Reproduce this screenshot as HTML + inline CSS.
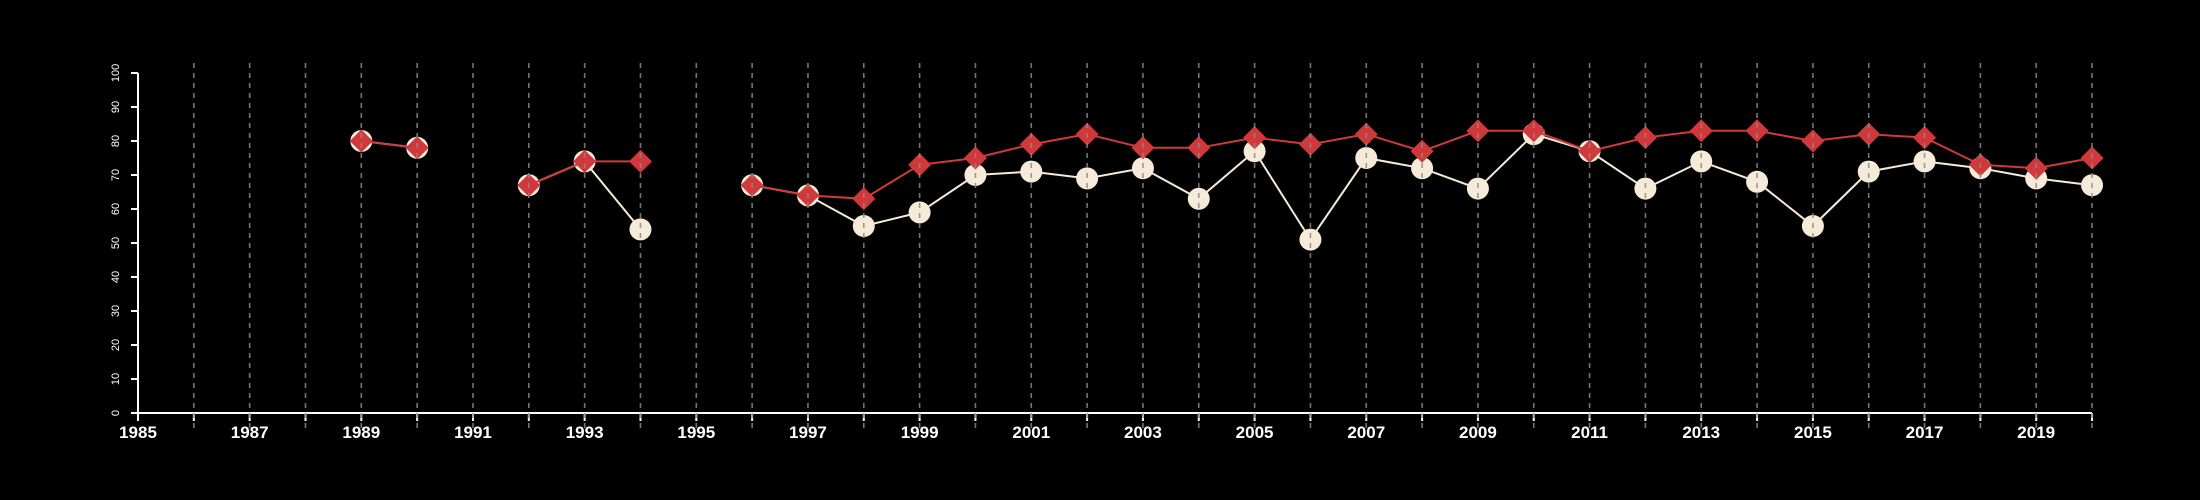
<!DOCTYPE html>
<html><head><meta charset="utf-8"><style>html,body{margin:0;padding:0;background:#000;}svg{display:block;font-family:"Liberation Sans",sans-serif;}</style></head>
<body>
<svg id="chart" width="2200" height="500" viewBox="0 0 2200 500" xmlns="http://www.w3.org/2000/svg">
<rect width="2200" height="500" fill="#000"/>
<g id="axes"></g>
<g id="series"></g>
<g id="grid"></g>
</svg>
<script>
const years = [1985,1986,1987,1988,1989,1990,1991,1992,1993,1994,1995,1996,1997,1998,1999,2000,2001,2002,2003,2004,2005,2006,2007,2008,2009,2010,2011,2012,2013,2014,2015,2016,2017,2018,2019,2020];
const redValues = [null,null,null,null,80,78,null,67,74,74,null,67,64,63,73,75,79,82,78,78,81,79,82,77,83,83,77,81,83,83,80,82,81,73,72,75];
const creamValues = [null,null,null,null,80,78,null,67,74,54,null,67,64,55,59,70,71,69,72,63,77,51,75,72,66,82,77,66,74,68,55,71,74,72,69,67];
const yTicks = [0,10,20,30,40,50,60,70,80,90,100];
const xLabels = [1985,1987,1989,1991,1993,1995,1997,1999,2001,2003,2005,2007,2009,2011,2013,2015,2017,2019];

const NS = "http://www.w3.org/2000/svg";
const x = yr => 138 + (yr - 1985) * 55.83;
const y = v => 413 - v * 3.4;
function mk(tag, attrs, parent) {
  const e = document.createElementNS(NS, tag);
  for (const k in attrs) e.setAttribute(k, attrs[k]);
  parent.appendChild(e);
  return e;
}
const axes = document.getElementById('axes');
const series = document.getElementById('series');
const grid = document.getElementById('grid');

// y axis
let yl = mk('line', {x1:138, y1:y(0), x2:138, y2:y(100), stroke:'#fff', 'stroke-width':2}, axes);


yTicks.forEach(v => {
  const t = mk('line', {x1:131, y1:y(v), x2:138, y2:y(v), stroke:'#fff', 'stroke-width':2}, axes);
  
  
  const tx = mk('text', {x:0, y:0, fill:'#fff', 'font-size':11, 'text-anchor':'middle', transform:`translate(119,${y(v)}) rotate(-90)`}, axes);
  
  
  tx.textContent = v;
});
// x axis
let xl = mk('line', {x1:x(1985), y1:413, x2:x(2020), y2:413, stroke:'#fff', 'stroke-width':2}, axes);


years.forEach(yr => {
  const t = mk('line', {x1:x(yr), y1:413, x2:x(yr), y2:421, stroke:'#fff', 'stroke-width':2}, axes);
  
  
});
xLabels.forEach(yr => {
  const tx = mk('text', {x:x(yr), y:438, fill:'#fff', 'font-size':17, 'font-weight':'bold', 'text-anchor':'middle'}, axes);
  
  
  tx.textContent = yr;
});
// grid lines
years.forEach((yr, i) => {
  if (i === 0) return;
  const g = mk('line', {x1:x(yr), y1:63, x2:x(yr), y2:428, stroke:'#8a8a8a', 'stroke-width':1.6, 'stroke-dasharray':'5,5', opacity:0.85}, grid);
  
  
});
function segments(vals) {
  const segs = []; let cur = [];
  vals.forEach((v, i) => {
    if (v === null) { if (cur.length) segs.push(cur); cur = []; }
    else cur.push([x(years[i]), y(v)]);
  });
  if (cur.length) segs.push(cur);
  return segs;
}
// cream series
segments(creamValues).forEach(s => {
  const p = mk('polyline', {points:s.map(p => p.join(',')).join(' '), fill:'none', stroke:'#f6ead8', 'stroke-width':2}, series);
  
  
});
creamValues.forEach((v, i) => {
  if (v === null) return;
  const c = mk('circle', {cx:x(years[i]), cy:y(v), r:11, fill:'#f6ead8'}, series);
  
  
});
// red series
segments(redValues).forEach(s => {
  const p = mk('polyline', {points:s.map(p => p.join(',')).join(' '), fill:'none', stroke:'#cf3a3a', 'stroke-width':2}, series);
  
  
});
redValues.forEach((v, i) => {
  if (v === null) return;
  const cx = x(years[i]), cy = y(v), r = 11.5;
  const d = mk('polygon', {points:`${cx},${cy-r} ${cx+r},${cy} ${cx},${cy+r} ${cx-r},${cy}`, fill:'#d0393b'}, series);
  
  
});
</script>
</body></html>
